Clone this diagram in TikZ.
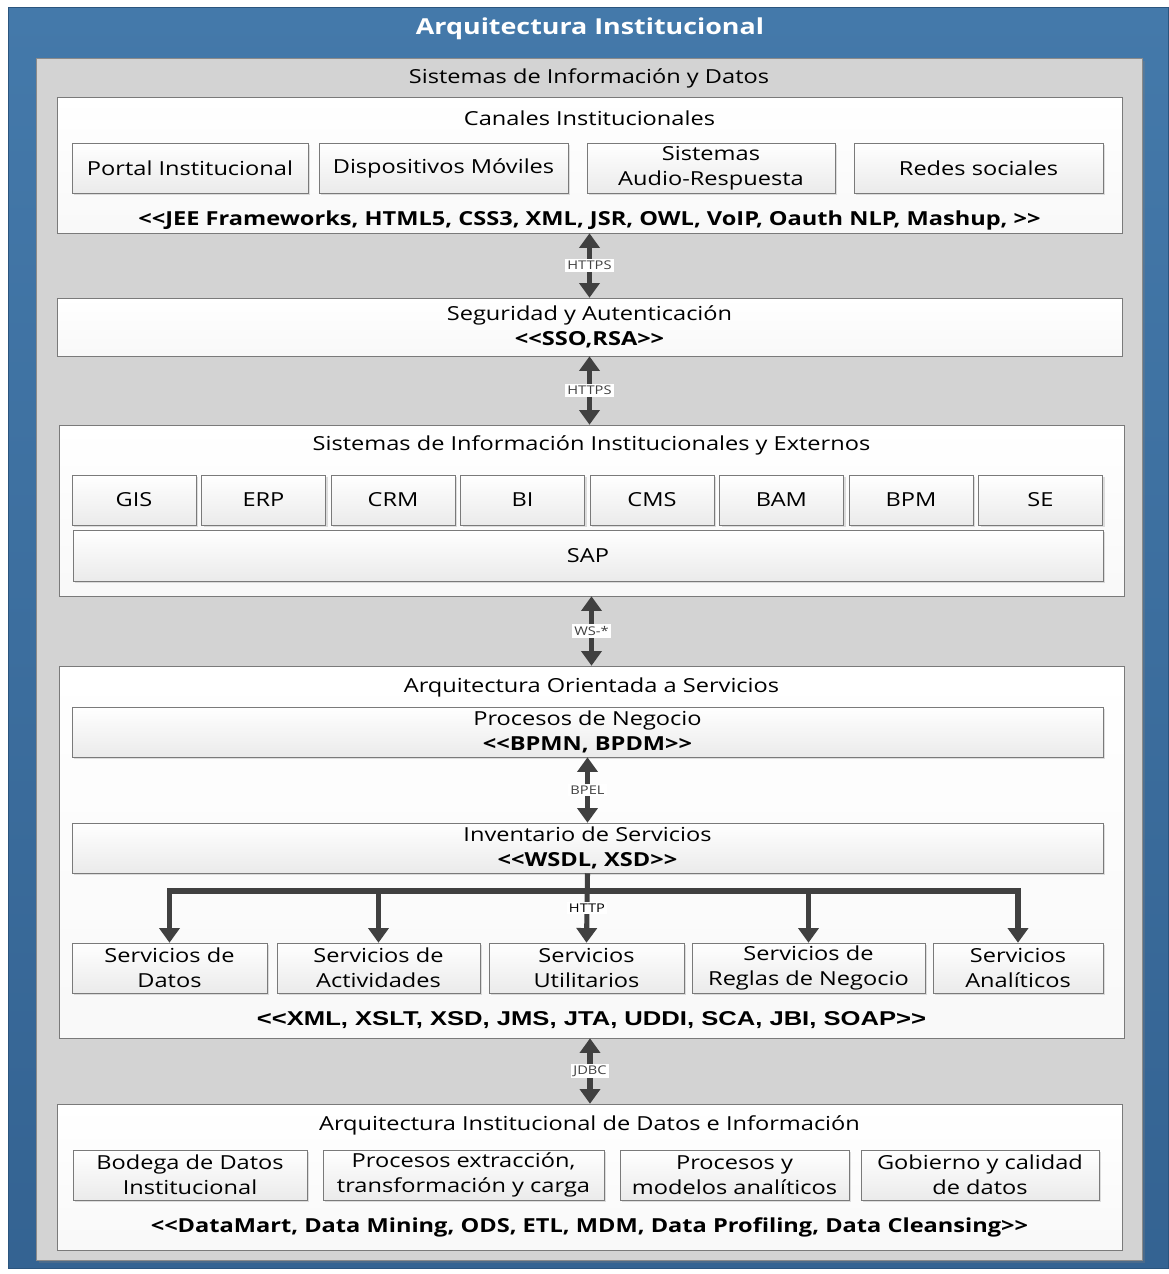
\documentclass[tikz,border=0pt]{standalone}
\usepackage{fontspec}
\newfontfamily\mainsans[FakeStretch=1.22]{Open Sans}
\newfontfamily\arialbf[FakeStretch=1.28]{Liberation Sans}
\usetikzlibrary{arrows.meta,shadows}

\definecolor{frametop}{HTML}{4479AA}
\definecolor{framebot}{HTML}{346392}
\definecolor{frameline}{HTML}{2B557E}
\definecolor{panelfill}{HTML}{D3D3D3}
\definecolor{panelline}{HTML}{8A8A8A}
\definecolor{boxline}{HTML}{7A7A7A}
\definecolor{wire}{HTML}{404040}

\tikzset{sz/.style 2 args={minimum width=#1*0.75pt,minimum height=#2*0.75pt}}
\tikzset{layer/.style={draw=boxline,top color=white,bottom color=gray!5,inner sep=0pt,
  drop shadow={shadow xshift=1pt,shadow yshift=-1pt,opacity=0.2}}}
\tikzset{item/.style={draw=boxline,top color=white,bottom color=gray!16,inner sep=0pt,align=center,
  drop shadow={shadow xshift=1.5pt,shadow yshift=-1.5pt,opacity=0.25},
  font=\fontsize{14.5}{19}\selectfont}}
\tikzset{head/.style={font=\fontsize{14.5}{19}\selectfont}}
\tikzset{tech/.style={font=\fontsize{14.5}{19}\bfseries}}
\tikzset{link/.style={wire,line width=3.8pt,{Triangle[width=15pt,length=11pt]}-{Triangle[width=15pt,length=11pt]}}}
\tikzset{down/.style={wire,line width=3.8pt,-{Triangle[width=15pt,length=11pt]}}}
\tikzset{proto/.style={fill=white,inner sep=1.5pt,font=\fontsize{9}{10}\selectfont}}

\begin{document}
\mainsans
\begin{tikzpicture}[x=0.75pt,y=-0.75pt]
  \useasboundingbox (0,0) rectangle (1168,1274);
  % outer frame and grey panel
  \fill[top color=frametop,bottom color=framebot,draw=frameline] (8,7) rectangle (1168,1268);
  \node[font=\fontsize{16.5}{20}\bfseries,text=white] (title) at (590,29) {Arquitectura Institucional};
  \filldraw[fill=panelfill,draw=panelline,drop shadow={shadow xshift=2pt,shadow yshift=-2pt,opacity=0.3}]
    (36,58) rectangle (1142,1260);
  \node[head] (sid) at (589,78) {Sistemas de Información y Datos};

  % canales
  \node[layer,sz={1065}{136}] (canal) at (589.5,165) {};
  \node[head] at (589.5,118) {Canales Institucionales};
  \node[item,sz={236}{50}] (portal) at (190,168) {Portal Institucional};
  \node[item,sz={249}{50}] (movil) at (443.5,168) {Dispositivos Móviles};
  \node[item,sz={248}{50}] (audio) at (711,168) {Sistemas\\Audio-Respuesta};
  \node[item,sz={249}{50}] (redes) at (978.5,168) {Redes sociales};
  \node[tech] at (589.5,220) {<<JEE Frameworks, HTML5, CSS3, XML, JSR, OWL, VoIP, Oauth NLP, Mashup, >>};

  % seguridad
  \node[layer,sz={1065}{58},align=center,font=\fontsize{14.5}{19}\selectfont] (segur) at (589.5,327)
    {Seguridad y Autenticación\\\textbf{<<SSO,RSA>>}};

  % sistemas de informacion
  \node[layer,sz={1065}{171}] (sist) at (591.5,510.5) {};
  \node[head] at (591.5,445) {Sistemas de Información Institucionales y Externos};
  \foreach \s [count=\i from 0] in {GIS,ERP,CRM,BI,CMS,BAM,BPM,SE}
    \node[item,sz={124}{50}] (sis-\s) at (134+129.5*\i,500) {\s};
  \node[item,sz={1030}{51}] (sap) at (588,555.5) {SAP};

  % arquitectura orientada a servicios
  \node[layer,sz={1065}{372}] (soa) at (591.5,852) {};
  \node[head] at (591.5,687) {Arquitectura Orientada a Servicios};
  \node[item,sz={1031}{50}] (proc) at (587.5,732) {Procesos de Negocio\\\textbf{<<BPMN, BPDM>>}};
  \node[item,sz={1031}{50}] (inv) at (587.5,848) {Inventario de Servicios\\\textbf{<<WSDL, XSD>>}};
  \node[item,sz={195}{50}] (sdat) at (169.5,968) {Servicios de\\Datos};
  \node[item,sz={203}{50}] (sact) at (378.5,968) {Servicios de\\Actividades};
  \node[item,sz={195}{50}] (sutil) at (586.5,968) {Servicios\\Utilitarios};
  \node[item,sz={233}{50}] (sreg) at (808.5,968) {Servicios de\\Reglas de Negocio};
  \node[item,sz={170}{50}] (sana) at (1018,968) {Servicios\\Analíticos};
  \node[font=\fontsize{15}{19}\arialbf\bfseries] at (591.5,1020) {<<XML, XSLT, XSD, JMS, JTA, UDDI, SCA, JBI, SOAP>>};

  % datos e informacion
  \node[layer,sz={1065}{146}] (dat) at (589.5,1177) {};
  \node[head] at (589.5,1125) {Arquitectura Institucional de Datos e Información};
  \node[item,sz={234}{50}] (bodega) at (190,1175) {Bodega de Datos\\Institucional};
  \node[item,sz={281}{50}] (etl) at (463.5,1175) {Procesos extracción,\\transformación y carga};
  \node[item,sz={229}{50}] (model) at (734.5,1175) {Procesos y\\modelos analíticos};
  \node[item,sz={238}{50}] (gob) at (980,1175) {Gobierno y calidad\\de datos};
  \node[tech] at (589.5,1227) {<<DataMart, Data Mining, ODS, ETL, MDM, Data Profiling, Data Cleansing>>};

  % connectors between layers
  \draw[link] (canal.south) -- node[proto] {HTTPS} (segur.north);
  \draw[link] (segur.south) -- node[proto] {HTTPS} (segur.south |- sist.north);
  \draw[link] (sist.south) -- node[proto] {WS-*} (soa.north);
  \draw[link] (proc.south) -- node[proto] {BPEL} (inv.north);
  \draw[link] (soa.north |- soa.south) ++(-1.5,0) coordinate (jd) -- node[proto] {JDBC} (jd |- dat.north);

  % service bus
  \coordinate (bus) at (587,891);
  \draw[wire,line width=3.8pt,line cap=rect] (sdat.north |- bus) -- (sana.north |- bus);
  \draw[down] (inv.south) -- (sutil.north);
  \node[proto] at (587,908) {HTTP};
  \foreach \n in {sdat,sact,sreg,sana}
    \draw[down] (\n.north |- bus) -- (\n.north);
\end{tikzpicture}
\end{document}
